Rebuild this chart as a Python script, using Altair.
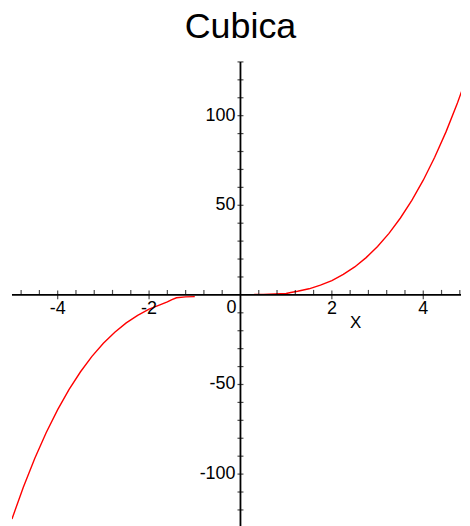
import altair as alt
import pandas as pd

# curve (two drawn pieces)
left_x = [-5.0, -4.75, -4.5, -4.25, -4.0, -3.75, -3.5, -3.25, -3.0, -2.75, -2.5, -2.25, -2.0, -1.75, -1.6, -1.5, -1.4, -1.2, -1.0]
left_y = [-125.0, -107.2, -91.1, -76.8, -64.0, -52.7, -42.9, -34.3, -27.0, -20.8, -15.6, -11.4, -8.0, -5.4, -3.9, -2.6, -1.6, -1.1, -1.0]
right_x = [0.3, 0.5, 0.75, 1.0, 1.1, 1.25, 1.5, 1.75, 2.0, 2.25, 2.5, 2.75, 3.0, 3.25, 3.5, 3.75, 4.0, 4.25, 4.5, 4.75, 5.0]
right_y = [0.3, 0.3, 0.5, 0.8, 1.3, 2.0, 3.4, 5.4, 8.0, 11.4, 15.6, 20.8, 27.0, 34.3, 42.9, 52.7, 64.0, 76.8, 91.1, 107.2, 125.0]

x_minor = [-4.8, -4.4, -3.6, -3.2, -2.8, -2.4, -1.6, -1.2, -0.8, -0.4,
           0.4, 0.8, 1.2, 1.6, 2.4, 2.8, 3.2, 3.6, 4.4, 4.8]
x_major = [-4, -2, 2, 4]
x_labels = ["-4", "-2", "2", "4"]
y_ticks = [-120, -110, -100, -90, -80, -70, -60, -50, -40, -30, -20, -10,
           10, 20, 30, 40, 50, 60, 70, 80, 90, 100, 110, 120, 130]
y_major = [-100, -50, 50, 100]
y_labels = ["-100", "-50", "50", "100"]

# visible part of the x range (the picture is cut at its right edge)
x_domain = [-5, 4.826]
y_domain = [-130, 130]

curve = pd.DataFrame({
    "x": left_x + right_x,
    "y": left_y + right_y,
    "part": ["a"] * len(left_x) + ["b"] * len(right_x),
})

xs = alt.Scale(domain=x_domain, nice=False, zero=False)
ys = alt.Scale(domain=y_domain, nice=False, zero=False)
FONT = "Liberation Sans"

line = alt.Chart(curve).mark_line(color="#ff0000", strokeWidth=1.4, clip=True).encode(
    x=alt.X("x:Q", scale=xs, axis=None),
    y=alt.Y("y:Q", scale=ys, axis=None),
    detail="part:N",
)

xaxis = alt.Chart().mark_rule(color="black", strokeWidth=1.8).encode(y=alt.datum(0))
yaxis = alt.Chart().mark_rule(color="black", strokeWidth=1.8).encode(x=alt.datum(0))

xminor = alt.Chart(pd.DataFrame({"v": x_minor})).mark_tick(
    orient="vertical", size=5, thickness=1.2, yOffset=-2.5, color="black"
).encode(x="v:Q", y=alt.datum(0))
xmajor = alt.Chart(pd.DataFrame({"v": x_major})).mark_tick(
    orient="vertical", size=9, thickness=1.2, color="black"
).encode(x="v:Q", y=alt.datum(0))

yticks = alt.Chart(pd.DataFrame({"v": y_ticks})).mark_tick(
    orient="horizontal", size=6, thickness=1.2, color="black"
).encode(x=alt.datum(0), y="v:Q")

xlab = alt.Chart(pd.DataFrame({"v": x_major, "t": x_labels})).mark_text(
    baseline="top", dy=5, fontSize=18, font=FONT, color="black"
).encode(x="v:Q", y=alt.datum(0), text="t:N")

ylab = alt.Chart(pd.DataFrame({"v": y_major, "t": y_labels})).mark_text(
    align="right", baseline="middle", dx=-5, fontSize=18, font=FONT, color="black"
).encode(x=alt.datum(0), y="v:Q", text="t:N")

zero_lab = alt.Chart().mark_text(
    align="right", baseline="top", dx=-4, dy=4, fontSize=18, font=FONT, color="black"
).encode(x=alt.datum(0), y=alt.datum(0), text=alt.value("0"))

x_title = alt.Chart().mark_text(
    align="center", baseline="middle", dy=28, fontSize=17, font=FONT, color="black"
).encode(x=alt.datum(2.52), y=alt.datum(0), text=alt.value("X"))

chart = alt.layer(
    line, xaxis, yaxis, xminor, xmajor, yticks, xlab, ylab, zero_lab, x_title
).properties(
    width=451,
    height=468,
    title=alt.Title("Cubica", fontSize=36, font=FONT, fontWeight="normal",
                    anchor="middle", baseline="bottom", offset=-21, dx=4,
                    color="black"),
    autosize=alt.AutoSizeParams(type="pad"),
    padding={"left": 3, "top": 0, "right": 0, "bottom": 0},
).configure_view(stroke=None)

chart.save("out.html", embed_options={"renderer": "svg", "actions": False})
